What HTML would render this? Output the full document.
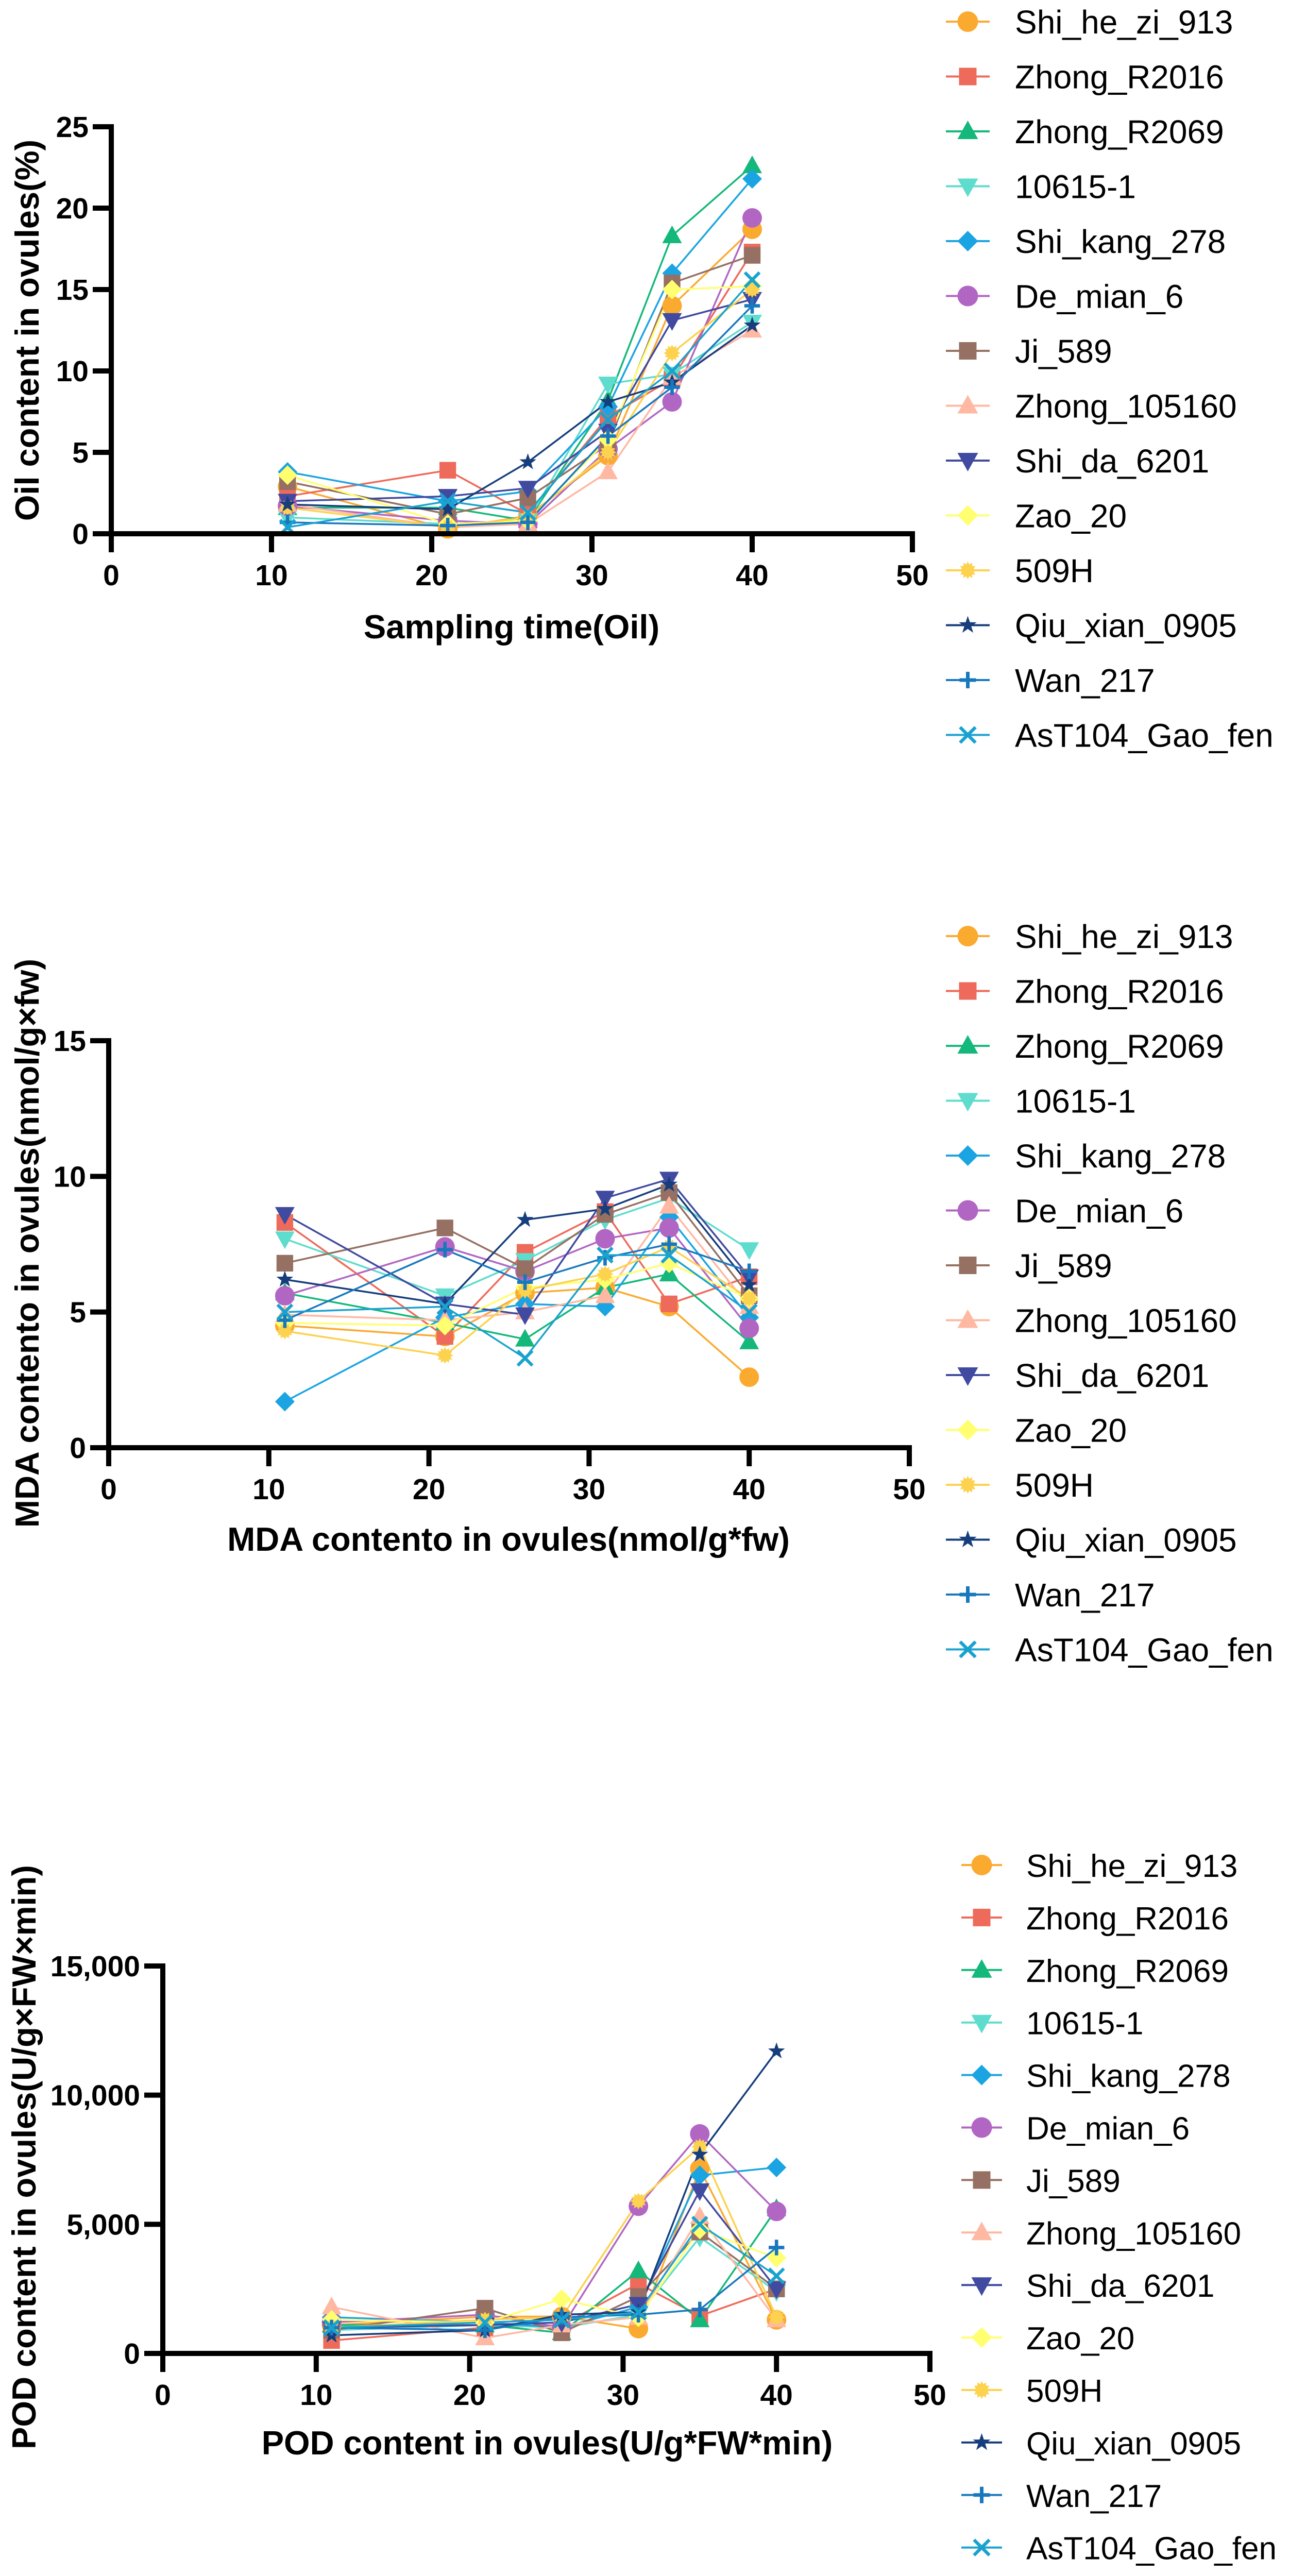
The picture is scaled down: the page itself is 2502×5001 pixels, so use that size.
<!DOCTYPE html>
<html><head><meta charset="utf-8"><style>
html,body{margin:0;padding:0;background:#fff;width:2502px;height:5001px;overflow:hidden}
svg{display:block}
text{font-family:"Liberation Sans",Arial,sans-serif}
</style></head><body>
<svg id="chart" width="2502" height="5001" viewBox="0 0 2502 5001" xmlns="http://www.w3.org/2000/svg"></svg>
<script>
const seriesNames=["Shi_he_zi_913","Zhong_R2016","Zhong_R2069","10615-1","Shi_kang_278","De_mian_6","Ji_589","Zhong_105160","Shi_da_6201","Zao_20","509H","Qiu_xian_0905","Wan_217","AsT104_Gao_fen"];
const seriesColors=["#FBAA30","#EE6A5A","#14B87A","#5EDCCE","#1BA4E2","#B266C4","#967062","#FFB8A2","#404AA0","#FFFF70","#FCD24E","#163D7C","#1878BE","#1AA2CF"];
const seriesShapes=["circle","square","tri","dtri","diamond","circle","square","tri","dtri","diamond","burst","star","plus","cross"];
const sampleDays=[11,21,26,31,35,40];
const xTicks=[0,10,20,30,40,50];
const oilTicks=[0,5,10,15,20,25];
const mdaTicks=[0,5,10,15];
const podTicks=[0,5000,10000,15000];
const podTickLabels=["0","5,000","10,000","15,000"];
const oilValues=[
[2.9,0.3,1.1,4.8,14.0,18.7],
[2.3,3.9,1.2,7.2,9.5,17.3],
[1.6,1.6,0.8,8.2,18.3,22.6],
[1.0,0.6,0.8,9.2,9.8,13.0],
[3.8,2.0,2.6,7.8,16.0,21.8],
[1.7,0.8,0.6,5.2,8.1,19.4],
[3.2,1.2,2.2,5.5,15.4,17.1],
[1.8,0.4,0.6,3.8,9.6,12.5],
[2.0,2.3,2.8,6.3,13.1,14.4],
[3.6,0.6,0.8,5.8,15.0,15.2],
[1.6,0.4,1.0,5.0,11.1,15.0],
[1.8,1.5,4.4,8.1,9.3,12.8],
[0.7,0.5,0.7,6.0,9.0,14.0],
[0.4,2.0,1.3,7.0,10.0,15.6]];
const mdaValues=[
[4.5,4.1,5.7,5.9,5.2,2.6],
[8.3,4.1,7.2,8.7,5.3,6.3],
[5.7,4.6,4.0,5.9,6.4,3.9],
[7.7,5.6,6.9,8.4,9.2,7.3],
[1.7,4.8,5.3,5.2,8.5,4.8],
[5.6,7.4,6.5,7.7,8.1,4.4],
[6.8,8.1,6.6,8.6,9.4,5.6],
[4.9,4.7,5.0,5.6,8.9,5.2],
[8.6,5.3,4.9,9.2,9.9,6.3],
[4.6,4.5,5.9,6.2,6.8,5.5],
[4.3,3.4,5.8,6.4,7.4,5.5],
[6.2,5.3,8.4,8.8,9.7,6.0],
[4.7,7.3,6.1,7.0,7.5,6.5],
[5.0,5.2,3.3,7.1,7.1,5.0]];
const podValues=[
[1100,1420,1430,960,7150,1300],
[500,1000,1100,2700,1450,2500],
[1100,1100,800,3200,1300,5600],
[900,1100,1000,1500,4500,2400],
[1400,1200,1000,1800,6900,7200],
[1200,1500,1000,5700,8500,5500],
[900,1750,800,2200,4700,2500],
[1800,600,1100,1400,5300,1300],
[1000,1100,1200,1900,6300,2500],
[1300,1200,2100,1400,4800,3700],
[1000,1300,1400,5900,8000,1400],
[700,900,1500,1600,7700,11700],
[1000,900,1400,1500,1700,4100],
[1000,1200,1300,1600,5000,3000]];

const NS="http://www.w3.org/2000/svg";
const svg=document.getElementById('chart');
function mk(tag,attrs,parent){const e=document.createElementNS(NS,tag);for(const k in attrs)e.setAttribute(k,attrs[k]);(parent||svg).appendChild(e);return e;}

function marker(g,shape,cx,cy,s,color){
  let e;
  if(shape==="circle"){e=mk('circle',{cx:cx,cy:cy,r:s,fill:color},g);}
  else if(shape==="square"){e=mk('rect',{x:cx-s*0.85,y:cy-s*0.85,width:s*1.7,height:s*1.7,fill:color},g);}
  else if(shape==="tri"){e=mk('polygon',{points:`${cx},${cy-s*1.05} ${cx+s},${cy+s*0.75} ${cx-s},${cy+s*0.75}`,fill:color},g);}
  else if(shape==="dtri"){e=mk('polygon',{points:`${cx},${cy+s*1.05} ${cx+s},${cy-s*0.75} ${cx-s},${cy-s*0.75}`,fill:color},g);}
  else if(shape==="diamond"){e=mk('polygon',{points:`${cx},${cy-s} ${cx+s},${cy} ${cx},${cy+s} ${cx-s},${cy}`,fill:color},g);}
  else if(shape==="burst"){let p=[];for(let i=0;i<24;i++){const a=i*Math.PI/12;const r=(i%2?0.7:1)*s*0.85;p.push((cx+r*Math.cos(a)).toFixed(1)+","+(cy+r*Math.sin(a)).toFixed(1));}e=mk('polygon',{points:p.join(" "),fill:color},g);}
  else if(shape==="star"){let p=[];for(let i=0;i<10;i++){const a=-Math.PI/2+i*Math.PI/5;const r=(i%2?0.4:1)*s*0.9;p.push((cx+r*Math.cos(a)).toFixed(1)+","+(cy+r*Math.sin(a)).toFixed(1));}e=mk('polygon',{points:p.join(" "),fill:color},g);}
  else if(shape==="plus"){e=mk('path',{d:`M${cx-s*0.8},${cy}H${cx+s*0.8}M${cx},${cy-s*0.8}V${cy+s*0.8}`,stroke:color,'stroke-width':s*0.35,fill:'none'},g);}
  else if(shape==="cross"){const d=s*0.75;e=mk('path',{d:`M${cx-d},${cy-d}L${cx+d},${cy+d}M${cx+d},${cy-d}L${cx-d},${cy+d}`,stroke:color,'stroke-width':s*0.32,fill:'none'},g);}
  return e;
}

function drawChart(cfg){
  const g=mk('g',{});
  
  
  const xs=v=>cfg.x0+(v-cfg.xmin)/(cfg.xmax-cfg.xmin)*(cfg.x1-cfg.x0);
  const ys=v=>cfg.y0-(v-cfg.ymin)/(cfg.ymax-cfg.ymin)*(cfg.y0-cfg.y1);
  // series
  const sg=mk('g',{},g);
  
  
  cfg.values.forEach((vals,si)=>{
    const pts=vals.map((v,i)=>xs(sampleDays[i]).toFixed(1)+","+ys(v).toFixed(1)).join(" ");
    const pl=mk('polyline',{points:pts,fill:'none',stroke:seriesColors[si],'stroke-width':3.5},sg);
    
    
  });
  cfg.values.forEach((vals,si)=>{
    vals.forEach((v,i)=>{
      const m=marker(sg,seriesShapes[si],xs(sampleDays[i]),ys(v),cfg.ms,seriesColors[si]);
      
      
    });
  });
  // axes
  const ax=mk('path',{d:`M${cfg.x0},${cfg.y1}V${cfg.y0}H${cfg.x1}`,stroke:'#000','stroke-width':10,fill:'none','stroke-linecap':'square'},g);
  
  
  xTicks.forEach(t=>{
    const x=xs(t);
    const tk=mk('line',{x1:x,y1:cfg.y0,x2:x,y2:cfg.y0+36,stroke:'#000','stroke-width':10},g);
    
    
    const tl=mk('text',{x:x,y:cfg.y0+100,'text-anchor':'middle','font-size':57,'font-weight':'bold'},g);
    tl.textContent=String(t);
    
    
  });
  cfg.yticks.forEach((t,i)=>{
    const y=ys(t);
    const tk=mk('line',{x1:cfg.x0-36,y1:y,x2:cfg.x0,y2:y,stroke:'#000','stroke-width':10},g);
    
    
    const tl=mk('text',{x:cfg.x0-44,y:y+20,'text-anchor':'end','font-size':57,'font-weight':'bold'},g);
    tl.textContent=cfg.ylabels[i];
    
    
  });
  const xt=mk('text',{x:cfg.xtx,y:cfg.xty,'text-anchor':'middle','font-size':65,'font-weight':'bold'},g);
  xt.textContent=cfg.xtitle;
  
  
  const yt=mk('text',{x:0,y:0,'text-anchor':'middle','font-size':65,'font-weight':'bold',transform:`translate(${cfg.ytx},${cfg.yty}) rotate(-90)`},g);
  yt.textContent=cfg.ytitle;
  
  
  // legend
  const lg=mk('g',{},g);
  
  
  seriesNames.forEach((n,si)=>{
    const y=cfg.ly+si*cfg.lsp;
    const eg=mk('g',{},lg);
    
    
    mk('line',{x1:cfg.lx1,y1:y,x2:cfg.lx2,y2:y,stroke:seriesColors[si],'stroke-width':4},eg);
    marker(eg,seriesShapes[si],(cfg.lx1+cfg.lx2)/2,y,20,seriesColors[si]);
    const t=mk('text',{x:cfg.ltx,y:y+23,'font-size':cfg.lfs},eg);
    t.textContent=n;
  });
}

drawChart({name:'oil-chart',values:oilValues,x0:216,x1:1771,xmin:0,xmax:50,y0:1036,y1:246,ymin:0,ymax:25,
  yticks:oilTicks,ylabels:oilTicks.map(String),ms:19,
  xtitle:'Sampling time(Oil)',xtx:993,xty:1239,ytitle:'Oil content in ovules(%)',ytx:75,yty:641,
  ly:42,lsp:106.5,lx1:1836,lx2:1921,ltx:1970,lfs:64});
drawChart({name:'mda-chart',values:mdaValues,x0:211,x1:1765,xmin:0,xmax:50,y0:2810,y1:2020,ymin:0,ymax:15,
  yticks:mdaTicks,ylabels:mdaTicks.map(String),ms:19,
  xtitle:'MDA contento in ovules(nmol/g*fw)',xtx:987,xty:3010,ytitle:'MDA contento in ovules(nmol/g×fw)',ytx:75,yty:2413,
  ly:1817,lsp:106.5,lx1:1836,lx2:1921,ltx:1970,lfs:64});
drawChart({name:'pod-chart',values:podValues,x0:316,x1:1805,xmin:0,xmax:50,y0:4568,y1:3816,ymin:0,ymax:15000,
  yticks:podTicks,ylabels:podTickLabels,ms:19,
  xtitle:'POD content in ovules(U/g*FW*min)',xtx:1062,xty:4764,ytitle:'POD content in ovules(U/g×FW×min)',ytx:69,yty:4187,
  ly:3620,lsp:101.9,lx1:1866,lx2:1945,ltx:1992,lfs:62});
</script>
</body></html>
